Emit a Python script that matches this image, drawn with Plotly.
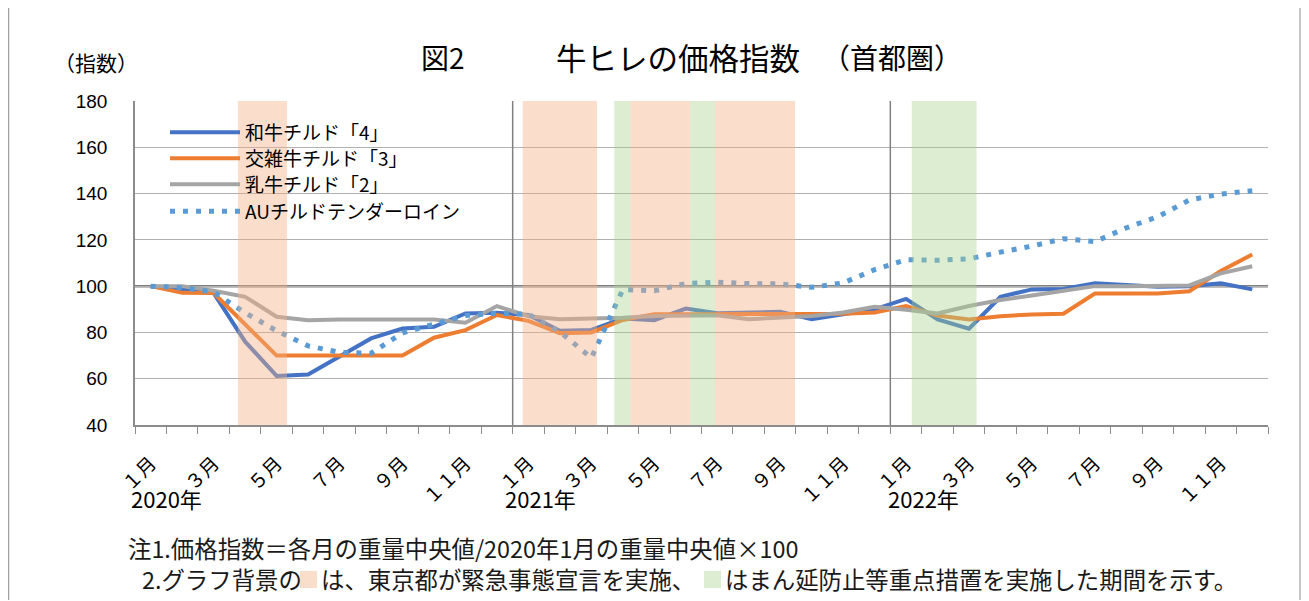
import plotly.graph_objects as go

# ---------------- data ----------------
months = [
    "2020/1", "2020/2", "2020/3", "2020/4", "2020/5", "2020/6",
    "2020/7", "2020/8", "2020/9", "2020/10", "2020/11", "2020/12",
    "2021/1", "2021/2", "2021/3", "2021/4", "2021/5", "2021/6",
    "2021/7", "2021/8", "2021/9", "2021/10", "2021/11", "2021/12",
    "2022/1", "2022/2", "2022/3", "2022/4", "2022/5", "2022/6",
    "2022/7", "2022/8", "2022/9", "2022/10", "2022/11", "2022/12",
]
tick_text = [
    "１月", "", "３月", "", "５月", "", "７月", "", "９月", "", "１１月", "",
    "１月", "", "３月", "", "５月", "", "７月", "", "９月", "", "１１月", "",
    "１月", "", "３月", "", "５月", "", "７月", "", "９月", "", "１１月", "",
]
year_labels = ["2020年", "2021年", "2022年"]
year_label_pos = [0.5, 12.4, 24.55]
year_breaks = [11.5, 23.5]

series_names = ["和牛チルド「4」", "交雑牛チルド「3」", "乳牛チルド「2」", "AUチルドテンダーロイン"]

wagyu = [100, 98.5, 97, 76, 61.2, 61.8, 69.5, 77.4, 81.7, 82.4, 88.2, 88.5,
         87.5, 80.7, 81.1, 86, 85.3, 90.3, 88.3, 88.6, 88.9, 85.7, 87.9, 90,
         94.5, 85.6, 81.6, 95.4, 98.6, 98.8, 101.2, 100.3, 99.7, 100, 101.2, 98.6]
kozatsu = [100, 97.1, 97, 83.5, 70, 70, 70, 70, 70, 77.7, 81, 87.5,
           85, 79.7, 80, 85.4, 87.9, 87.9, 87.9, 87.9, 88.1, 88.1, 88.1, 88.6,
           91.4, 87.3, 85.6, 87, 87.8, 88.1, 96.8, 96.8, 96.8, 97.8, 106.5, 113.7]
nyugyu = [100, 100, 98, 95.4, 86.8, 85.3, 85.6, 85.6, 85.3, 85.6, 84.2, 91.4,
          87, 85.7, 86, 86.3, 87.1, 87.1, 87.4, 85.7, 86.4, 87.1, 88.6, 91.1,
          89.8, 88.2, 91.4, 94, 96, 97.8, 100, 100, 100, 100.3, 105.5, 108.6]
au = [100, 99.3, 97.4, 88.5, 80.7, 74.2, 71.4, 71, 79.8, 83.7, 87.3, 88.2,
      87.9, 80.3, 69, 98.5, 98, 101.1, 101.7, 101.1, 101, 99.5, 101.4, 107.1,
      111.4, 111.2, 111.8, 114.7, 117.3, 120.5, 119.2, 125.2, 130, 137.2, 139.8, 141.2]

# shaded periods (category index units)
emergency = [(2.77, 4.33), (11.82, 14.18), (15.24, 17.14), (17.93, 20.47)]
semi_emergency = [(14.73, 15.24), (17.14, 17.93), (24.18, 26.24)]

colors = ["#4472C4", "#ED7D31", "#A5A5A5", "#5B9BD5"]

# ---------------- layout geometry helpers ----------------
# page has an 8px body margin; figure placed at (8, 8)
FIG_W, FIG_H = 1301, 593
L, T, W, H = 127, 93, 1133, 324


def px(x_page):
    return (x_page - 8 - L) / W


def py(y_page):
    return (T + H - (y_page - 8)) / H


JP = "Noto Sans CJK JP, sans-serif"

fig = go.Figure()
legend_rows = [132, 158, 184, 211]
legend_ids = ["legend", "legend2", "legend3", "legend4"]
for name, vals, col, lid in zip(series_names, [wagyu, kozatsu, nyugyu, au], colors, legend_ids):
    if name.startswith("AU"):
        line = dict(color=col, width=5, dash="5px,8px")
    else:
        line = dict(color=col, width=4)
    fig.add_trace(go.Scatter(x=months, y=vals, mode="lines", name=name, line=line,
                             legend=lid))

shapes = []
# white box behind the legend (hides grid lines)
shapes.append(dict(type="rect", xref="paper", yref="paper", x0=px(150), x1=px(500),
                   y0=py(226), y1=py(111), fillcolor="white", line=dict(width=0), layer="between"))
# 100 reference line
shapes.append(dict(type="line", xref="paper", yref="y", x0=0, x1=1, y0=100, y1=100,
                   line=dict(color="#808080", width=2.5), layer="between"))
# year separators
for xb in year_breaks:
    shapes.append(dict(type="line", xref="x", yref="y", x0=xb, x1=xb, y0=40, y1=180,
                       line=dict(color="#808080", width=1.5), layer="between"))
# shaded periods
for a, b in emergency:
    shapes.append(dict(type="rect", xref="x", yref="y", x0=a, x1=b, y0=40, y1=180,
                       fillcolor="#F4B183", opacity=0.42, line=dict(width=0), layer="above"))
for a, b in semi_emergency:
    shapes.append(dict(type="rect", xref="x", yref="y", x0=a, x1=b, y0=40, y1=180,
                       fillcolor="#A9D18E", opacity=0.4, line=dict(width=0), layer="above"))
# footnote colour squares
shapes.append(dict(type="rect", xref="paper", yref="paper", x0=px(300), x1=px(317),
                   y0=py(588), y1=py(571), fillcolor="#F9DECB", line=dict(width=0)))
shapes.append(dict(type="rect", xref="paper", yref="paper", x0=px(704), x1=px(721),
                   y0=py(588), y1=py(571), fillcolor="#DDEDD2", line=dict(width=0)))
# outer frame (left / right edges)
for xe in (8.6, 1300):
    shapes.append(dict(type="line", xref="paper", yref="paper", x0=px(xe), x1=px(xe),
                       y0=py(600), y1=py(8), line=dict(color="#A0A0A0", width=1.2)))

annotations = []
annotations.append(dict(text="図2", xref="paper", yref="paper", x=px(443), y=py(57),
                        xanchor="center", yanchor="middle", showarrow=False,
                        font=dict(family=JP, size=28, color="black")))
annotations.append(dict(text="牛ヒレの価格指数", xref="paper", yref="paper",
                        x=px(554), y=py(57), xanchor="left", yanchor="middle", showarrow=False,
                        font=dict(family=JP, size=30.5, color="black")))
annotations.append(dict(text="（首都圏）", xref="paper", yref="paper",
                        x=px(820), y=py(57), xanchor="left", yanchor="middle", showarrow=False,
                        font=dict(family=JP, size=28, color="black")))
annotations.append(dict(text="（指数）", xref="paper", yref="paper", x=px(52), y=py(62),
                        xanchor="left", yanchor="middle", showarrow=False,
                        font=dict(family=JP, size=21, color="black")))
for lbl, pos in zip(year_labels, year_label_pos):
    annotations.append(dict(text=lbl, xref="x", yref="paper", x=pos, y=py(498),
                            xanchor="center", yanchor="middle", showarrow=False,
                            font=dict(family=JP, size=22, color="black")))
note_font = dict(family=JP, size=23.4, color="#1a1a1a")
annotations.append(dict(text="注1.価格指数＝各月の重量中央値/2020年1月の重量中央値×100",
                        xref="paper", yref="paper", x=px(126), y=py(548), xanchor="left",
                        yanchor="middle", showarrow=False, font=note_font))
annotations.append(dict(text="2.グラフ背景の", xref="paper", yref="paper", x=px(140), y=py(579),
                        xanchor="left", yanchor="middle", showarrow=False, font=note_font))
annotations.append(dict(text="は、東京都が緊急事態宣言を実施、", xref="paper", yref="paper",
                        x=px(319), y=py(579), xanchor="left", yanchor="middle",
                        showarrow=False, font=note_font))
annotations.append(dict(text="はまん延防止等重点措置を実施した期間を示す。", xref="paper", yref="paper",
                        x=px(723), y=py(579), xanchor="left", yanchor="middle",
                        showarrow=False, font=note_font))

legend_common = dict(xanchor="left", yanchor="top", bgcolor="rgba(0,0,0,0)",
                     font=dict(family=JP, size=19, color="black"), itemwidth=70)
legends = {}
for lid, yc in zip(legend_ids, legend_rows):
    legends[lid] = dict(x=px(165), y=py(yc - 18.5), **legend_common)

fig.update_layout(
    width=FIG_W, height=FIG_H,
    margin=dict(l=L, r=FIG_W - L - W, t=T, b=FIG_H - T - H, autoexpand=False),
    paper_bgcolor="white", plot_bgcolor="white",
    showlegend=True,
    shapes=shapes, annotations=annotations,
    xaxis=dict(type="category", categoryorder="array", categoryarray=months,
               range=[-0.5, 35.5], tickmode="array", tickvals=months, ticktext=tick_text,
               tickson="boundaries", ticks="outside", ticklen=7, tickcolor="#8C8C8C",
               tickwidth=1.3, tickangle=-45, showgrid=False, showline=True,
               linecolor="#8C8C8C", linewidth=1.5, zeroline=False, ticklabelstandoff=18,
               tickfont=dict(family=JP, size=19, color="black")),
    yaxis=dict(range=[40, 180], tickmode="linear", tick0=40, dtick=20, showgrid=True,
               gridcolor="#B0B0B0", gridwidth=1.3, showline=True, linecolor="#8C8C8C",
               linewidth=1.5, zeroline=False, ticks="", ticklabelstandoff=22,
               tickfont=dict(family="Liberation Sans, Arial, sans-serif", size=19, color="black")),
    **legends,
)

fig.write_html("out.html")
